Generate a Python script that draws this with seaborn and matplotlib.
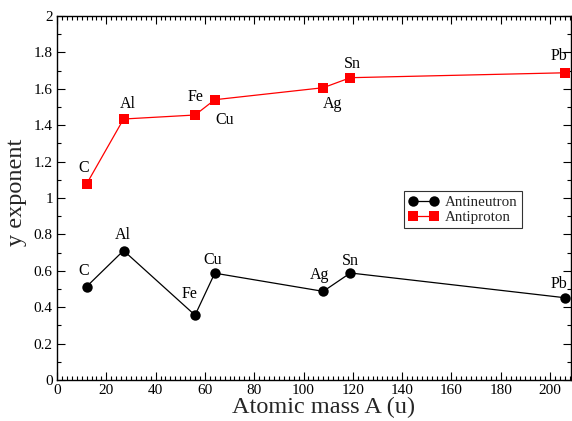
import matplotlib
matplotlib.use("Agg")
import matplotlib.pyplot as plt
import seaborn as sns
import pandas as pd
from matplotlib.ticker import MultipleLocator

elements = ["C", "Al", "Fe", "Cu", "Ag", "Sn", "Pb"]
mass = [12, 27, 56, 64, 108, 119, 206]
antineutron = [0.513, 0.711, 0.356, 0.587, 0.487, 0.588, 0.452]
antiproton = [1.077, 1.434, 1.456, 1.540, 1.606, 1.661, 1.688]

# label offsets in pixels (style only)
off_n = [(-3, 16), (-1, 16), (-6, 21), (-2, 13), (-4, 16), (0, 12), (-6, 14)]
off_p = [(-3, 16), (4, 15), (0, 18), (10, -20), (9, -16), (2, 14), (-6, 17)]

sns.set_theme(style="ticks")
plt.rcParams["font.family"] = ["Liberation Serif", "DejaVu Serif"]

fig = plt.figure(figsize=(5.72, 4.21), dpi=100)
ax = fig.add_axes([57/572, 41/421, 514/572, 364/421])

df_n = pd.DataFrame({"A": mass, "y": antineutron})
df_p = pd.DataFrame({"A": mass, "y": antiproton})

sns.lineplot(data=df_n, x="A", y="y", ax=ax, sort=False, color="black",
             marker="o", markersize=7.5, markeredgewidth=0, linewidth=0.9,
             label="Antineutron")
sns.lineplot(data=df_p, x="A", y="y", ax=ax, sort=False, color="#ff0000",
             marker="s", markersize=6.5, markeredgewidth=0, linewidth=0.9,
             label="Antiproton")

for el, a, v, o in zip(elements, mass, antineutron, off_n):
    ax.annotate(el, (a, v), xytext=o, textcoords="offset pixels",
                ha="center", va="center", fontsize=11.5, color="black")
for el, a, v, o in zip(elements, mass, antiproton, off_p):
    ax.annotate(el, (a, v), xytext=o, textcoords="offset pixels",
                ha="center", va="center", fontsize=11.5, color="black")

ax.set_xlim(0, 208.5)
ax.set_ylim(0, 2)
ax.xaxis.set_major_locator(MultipleLocator(20))
ax.xaxis.set_minor_locator(MultipleLocator(2))
ax.set_yticks([0, 0.2, 0.4, 0.6, 0.8, 1.0, 1.2, 1.4, 1.6, 1.8, 2.0])
ax.set_yticklabels(["0", "0.2", "0.4", "0.6", "0.8", "1", "1.2", "1.4", "1.6", "1.8", "2"])
ax.yaxis.set_minor_locator(MultipleLocator(0.1))
ax.tick_params(which="both", direction="in", top=True, right=True,
               labelsize=11, colors="black", pad=3)
ax.tick_params(which="major", length=6, width=0.8)
ax.tick_params(which="minor", length=3, width=0.8)
for s in ax.spines.values():
    s.set_linewidth(1.0)
    s.set_color("black")

ax.set_xlabel("Atomic mass A (u)", fontsize=17.5, labelpad=0)
ax.set_ylabel("y exponent", fontsize=17.5, labelpad=5)
ax.xaxis.label.set_x(0.518)
ax.yaxis.label.set_y(0.516)

leg = ax.legend(loc="upper left", bbox_to_anchor=((404-57)/514, (380-191)/364),
                frameon=True, fancybox=False, edgecolor="black", fontsize=10.8,
                numpoints=2, handlelength=2.0, handletextpad=0.4,
                borderpad=0.3, labelspacing=0.1, borderaxespad=0)
leg.get_frame().set_linewidth(0.8)

fig.savefig("out.png", dpi=100)
